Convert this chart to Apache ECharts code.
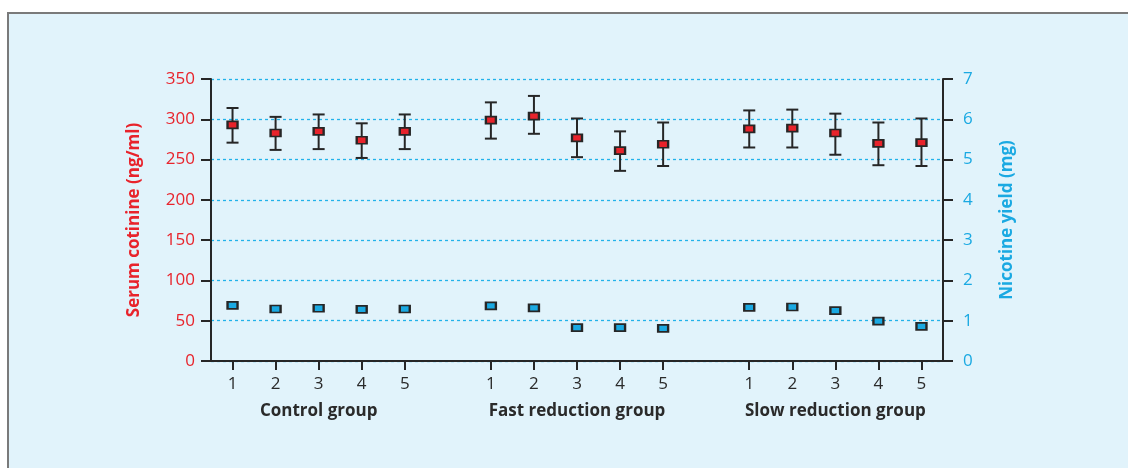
<!DOCTYPE html>
<html>
<head>
<meta charset="utf-8">
<script src="https://cdn.jsdelivr.net/npm/echarts@6/dist/echarts.min.js"></script>
<style>
html,body{margin:0;padding:0;background:#fff;width:1128px;height:468px;overflow:hidden;}
#frame{position:absolute;left:7px;top:12px;width:1200px;height:500px;background:#E1F3FB;border-top:2px solid #7a7a7a;border-left:2px solid #7a7a7a;}
#chart{position:absolute;left:0;top:0;width:1128px;height:468px;}
</style>
</head>
<body>
<div id="frame"></div>
<div id="chart"></div>
<script>
// ---- data ----
var groups = ['Control group', 'Fast reduction group', 'Slow reduction group'];
var visits = ['1', '2', '3', '4', '5'];
var cotinineMean  = [293, 283, 285, 274, 285,  299, 304, 277, 261, 269,  288, 289, 283, 270, 271];
var cotinineUpper = [314, 303, 306, 295, 306,  321, 329, 301, 285, 296,  311, 312, 307, 296, 301];
var cotinineLower = [271, 262, 263, 252, 263,  276, 282, 253, 236, 242,  265, 265, 256, 243, 242];
var nicotineYield = [1.38, 1.29, 1.31, 1.28, 1.29,  1.37, 1.32, 0.83, 0.83, 0.81,  1.33, 1.34, 1.25, 0.99, 0.86];
var leftTicks = [0, 50, 100, 150, 200, 250, 300, 350];
var rightTicks = [0, 1, 2, 3, 4, 5, 6, 7];

// ---- build category slots (groups separated by one empty slot) ----
var slots = [], groupSlots = [], pointSlot = [];
groups.forEach(function (g, gi) {
  visits.forEach(function (v, vi) {
    pointSlot.push(slots.length);
    slots.push(v);
    groupSlots.push(vi === 2 ? g : '');
  });
  if (gi < groups.length - 1) { slots.push(''); groupSlots.push(''); }
});
var slotIds = slots.map(function (s, i) { return 's' + i; });

var errData = pointSlot.map(function (s, i) { return [s, cotinineLower[i], cotinineUpper[i]]; });
var meanData = pointSlot.map(function (s, i) { return [s, cotinineMean[i]]; });
var nicData = pointSlot.map(function (s, i) { return [s, nicotineYield[i]]; });

var RED = '#E8232B', BLUE = '#1AA9E2', DARK = '#262626';
var FONT = 'Open Sans';
var FS = 17;

var chart = echarts.init(document.getElementById('chart'), null, {renderer: 'canvas'});
chart.setOption({
  backgroundColor: 'transparent',
  animation: false,
  textStyle: {fontFamily: FONT},
  grid: {left: 211, right: 185, top: 79, bottom: 107, containLabel: false},
  xAxis: [{
    type: 'category', data: slotIds, boundaryGap: true, position: 'bottom',
    axisLine: {show: true, lineStyle: {color: DARK, width: 2}},
    axisTick: {show: true, alignWithLabel: true, length: 9, lineStyle: {color: DARK, width: 2},
      interval: function (i) { return slots[i] !== ''; }},
    axisLabel: {show: true, interval: 0, margin: 15, color: '#2a2a2a', fontSize: FS, fontFamily: FONT,
      formatter: function (v, i) { return slots[i]; }},
    splitLine: {show: false}
  }, {
    type: 'category', data: slotIds, boundaryGap: true, position: 'bottom',
    axisLine: {show: false}, axisTick: {show: false}, splitLine: {show: false},
    axisLabel: {show: true, interval: 0, margin: 42, color: '#2a2a2a', fontSize: FS, fontWeight: 'bold', fontFamily: FONT,
      formatter: function (v, i) { return groupSlots[i]; }}
  }],
  yAxis: [{
    type: 'value', position: 'left', min: leftTicks[0], max: leftTicks[leftTicks.length - 1], interval: 50,
    name: 'Serum cotinine (ng/ml)', nameLocation: 'middle', nameGap: 68, nameRotate: 90,
    nameTextStyle: {color: RED, fontSize: FS, fontWeight: 'bold', fontFamily: FONT},
    axisLine: {show: true, lineStyle: {color: DARK, width: 2}},
    axisTick: {show: true, length: 10, lineStyle: {color: DARK, width: 2}},
    axisLabel: {color: RED, fontSize: FS, margin: 16, fontFamily: FONT},
    splitLine: {show: true, lineStyle: {color: '#22B2EA', width: 1.3, type: [3, 3]}}
  }, {
    type: 'value', position: 'right', min: rightTicks[0], max: rightTicks[rightTicks.length - 1], interval: 1,
    name: 'Nicotine yield (mg)', nameLocation: 'middle', nameGap: 56, nameRotate: 90,
    nameTextStyle: {color: BLUE, fontSize: FS, fontWeight: 'bold', fontFamily: FONT},
    axisLine: {show: true, lineStyle: {color: DARK, width: 2}},
    axisTick: {show: true, length: 10, lineStyle: {color: DARK, width: 2}},
    axisLabel: {color: BLUE, fontSize: FS, margin: 20, fontFamily: FONT},
    splitLine: {show: false}
  }],
  series: [{
    type: 'custom', xAxisIndex: 0, yAxisIndex: 0, z: 3, data: errData,
    renderItem: function (params, api) {
      var x = api.value(0);
      var lo = api.coord([x, api.value(1)]);
      var hi = api.coord([x, api.value(2)]);
      var hw = 6;
      var st = {stroke: DARK, lineWidth: 2, fill: null};
      return {type: 'group', children: [
        {type: 'line', shape: {x1: lo[0], y1: lo[1], x2: hi[0], y2: hi[1]}, style: st},
        {type: 'line', shape: {x1: hi[0] - hw, y1: hi[1], x2: hi[0] + hw, y2: hi[1]}, style: st},
        {type: 'line', shape: {x1: lo[0] - hw, y1: lo[1], x2: lo[0] + hw, y2: lo[1]}, style: st}
      ]};
    }
  }, {
    type: 'scatter', xAxisIndex: 0, yAxisIndex: 0, z: 5, data: meanData,
    symbol: 'rect', symbolSize: [10, 7],
    itemStyle: {color: RED, borderColor: DARK, borderWidth: 2, opacity: 1}
  }, {
    type: 'scatter', xAxisIndex: 0, yAxisIndex: 1, z: 5, data: nicData,
    symbol: 'rect', symbolSize: [10, 7],
    itemStyle: {color: BLUE, borderColor: DARK, borderWidth: 2, opacity: 1}
  }]
});
</script>
</body>
</html>
